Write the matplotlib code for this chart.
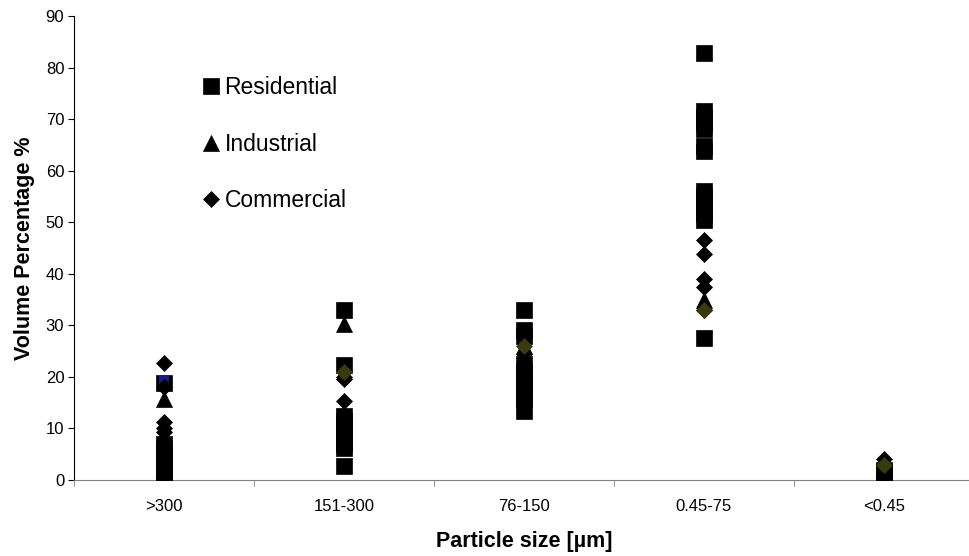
import matplotlib
matplotlib.use("Agg")
import matplotlib.pyplot as plt
import numpy as np

plt.rcParams['font.family'] = ['Liberation Sans', 'DejaVu Sans']

categories = [">300", "151-300", "76-150", "0.45-75", "<0.45"]

# values, one list per size class
residential = [
    [18.8, 7.0, 6.0, 5.0, 4.0, 3.2, 2.5, 2.0, 1.5, 1.0, 0.5, 0.0],
    [33.0, 22.3, 12.5, 11.5, 10.5, 9.5, 9.0, 8.0, 7.5, 7.0, 6.3, 2.8],
    [33.0, 29.0, 28.0, 22.5, 21.0, 20.0, 19.0, 18.3, 17.5, 16.5, 15.8, 13.3],
    [82.9, 71.5, 70.5, 69.0, 68.0, 64.8, 63.8, 56.0, 55.0, 54.0, 52.5, 51.5, 50.5, 27.5],
    [2.0, 1.5, 1.0, 0.5, 0.0],
]
industrial = [
    [15.8, 0.5],
    [30.3],
    [26.0],
    [35.0],
    [1.0],
]
commercial = [
    [22.7, 18.0, 11.3, 10.0, 9.3, 5.0],
    [20.0, 19.5, 15.3, 12.0, 10.0],
    [24.4, 22.0, 20.0],
    [46.5, 43.8, 39.0, 37.5, 33.0],
    [4.0, 2.5],
]
# unlabelled series that show through in colour
navy_pts = [[19.2], [], [], [], []]
olive_pts = [[], [21.0], [26.0], [33.0], [3.0]]


def flatten(series):
    xs, ys = [], []
    for i in range(len(series)):
        for v in series[i]:
            xs.append(i)
            ys.append(v)
    return xs, ys


fig = plt.figure(figsize=(9.7, 5.56), dpi=100)
ax = fig.add_axes([74 / 970, 76 / 556, 900 / 970, 464 / 556])

x, y = flatten(residential)
ax.plot(x, y, linestyle='none', marker='s', markersize=11.5, color='black',
        markeredgecolor='black', markeredgewidth=0.5, label='Residential', zorder=3)
x, y = flatten(navy_pts)
ax.plot(x, y, linestyle='none', marker='s', markersize=7, color='#1a1a80',
        markeredgewidth=0, zorder=3.5)
x, y = flatten(industrial)
ax.plot(x, y, linestyle='none', marker='^', markersize=11.5, color='black',
        markeredgecolor='black', markeredgewidth=0.5, label='Industrial', zorder=4)
x, y = flatten(commercial)
ax.plot(x, y, linestyle='none', marker='D', markersize=8.2, color='black',
        markeredgecolor='black', markeredgewidth=0.5, label='Commercial', zorder=5)
x, y = flatten(olive_pts)
ax.plot(x, y, linestyle='none', marker='D', markersize=8.2, color='#3a3a10',
        markeredgecolor='#3a3a10', markeredgewidth=0.5, zorder=6)

ax.set_xlim(-0.5, 4.5)
ax.set_ylim(0, 90)
ax.set_yticks(np.arange(0, 91, 10))
ax.set_xticks(range(len(categories)))
ax.set_xticklabels(categories)
ax.set_xticks(np.arange(-0.5, 4.6, 1), minor=True)
ax.tick_params(axis='x', which='major', length=0, labelsize=12, pad=14)
ax.tick_params(axis='x', which='minor', length=4, direction='out', color='#808080')
ax.tick_params(axis='y', length=4, direction='out', labelsize=12, pad=3)

ax.spines['top'].set_visible(False)
ax.spines['right'].set_visible(False)
ax.spines['bottom'].set_color('#808080')
ax.spines['left'].set_color('black')

ax.set_xlabel("Particle size [\u00b5m]", fontsize=15.5, fontweight='bold', labelpad=12)
ax.set_ylabel("Volume Percentage %", fontsize=15.5, fontweight='bold', labelpad=8)

ax.legend(loc='upper left', bbox_to_anchor=(204 / 970, 1 - 76 / 556),
          bbox_transform=fig.transFigure, frameon=False, fontsize=16.5,
          handlelength=0.6, handletextpad=0.3, labelspacing=1.47,
          markerscale=1.0, borderaxespad=0, borderpad=0)

fig.savefig("out.png", dpi=100)
